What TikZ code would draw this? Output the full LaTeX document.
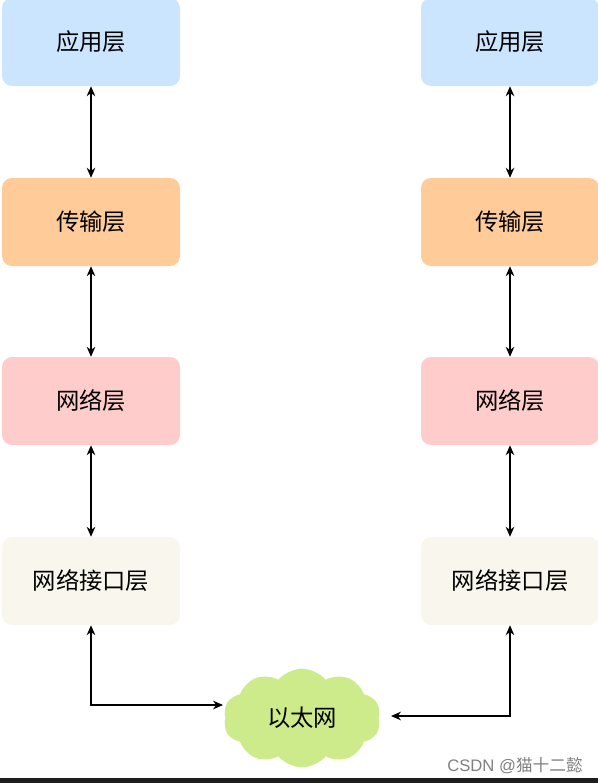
\documentclass[tikz,border=0pt]{standalone}
\usepackage{fontspec}
\setmainfont{Noto Sans CJK SC}
\newfontfamily\wmlatin{Liberation Sans}
\usetikzlibrary{arrows.meta,shapes.symbols}
\definecolor{cblue}{HTML}{CCE5FF}
\definecolor{corange}{HTML}{FFCC99}
\definecolor{cpink}{HTML}{FFCCCC}
\definecolor{ccream}{HTML}{F9F7ED}
\definecolor{cgreen}{HTML}{CDEB8B}
\definecolor{cbar}{HTML}{1E1E1E}
\tikzset{
  layer/.style={rounded corners=7.5pt, minimum width=133.5pt, minimum height=66pt, inner sep=0pt,
    font=\fontsize{17.5}{20}\selectfont, text=black},
  link/.style={line width=0.9pt, {Stealth[length=7.5pt,width=6.5pt]}-{Stealth[length=7.5pt,width=6.5pt]}},
}
\begin{document}
\begin{tikzpicture}[x=0.75pt,y=-0.75pt]
\useasboundingbox (0,0) rectangle (598,783);
% left stack
\node[layer, fill=cblue]   (l1) at (91,42) {应用层};
\node[layer, fill=corange] (l2) at (91,222) {传输层};
\node[layer, fill=cpink]   (l3) at (91,401) {网络层};
\node[layer, fill=ccream]  (l4) at (91,581) {网络接口层};
% right stack
\node[layer, fill=cblue]   (r1) at (510,42) {应用层};
\node[layer, fill=corange] (r2) at (510,222) {传输层};
\node[layer, fill=cpink]   (r3) at (510,401) {网络层};
\node[layer, fill=ccream]  (r4) at (510,581) {网络接口层};
% cloud
\node[cloud, cloud puffs=10, cloud puff arc=100, aspect=1.6, fill=cgreen, draw=none,
  minimum width=118pt, minimum height=74pt, inner sep=0pt,
  font=\fontsize{17.5}{20}\selectfont] (net) at (302,718) {以太网};
% vertical links
\draw[link] (l1.south) -- (l2.north);
\draw[link] (l2.south) -- (l3.north);
\draw[link] (l3.south) -- (l4.north);
\draw[link] (r1.south) -- (r2.north);
\draw[link] (r2.south) -- (r3.north);
\draw[link] (r3.south) -- (r4.north);
% bottom links
\coordinate (cl) at (223,705);
\coordinate (cr) at (391,716);
\draw[link] (l4.south) |- (cl);
\draw[link] (r4.south) |- (cr);
% watermark and bottom bar
\node[anchor=east, text=black!50, font=\fontsize{12.5}{14}\selectfont, inner sep=0pt] (wm) at (583,766) {{\wmlatin CSDN @}猫十二懿};
\fill[cbar] (0,778) rectangle (598,783);
\end{tikzpicture}
\end{document}
